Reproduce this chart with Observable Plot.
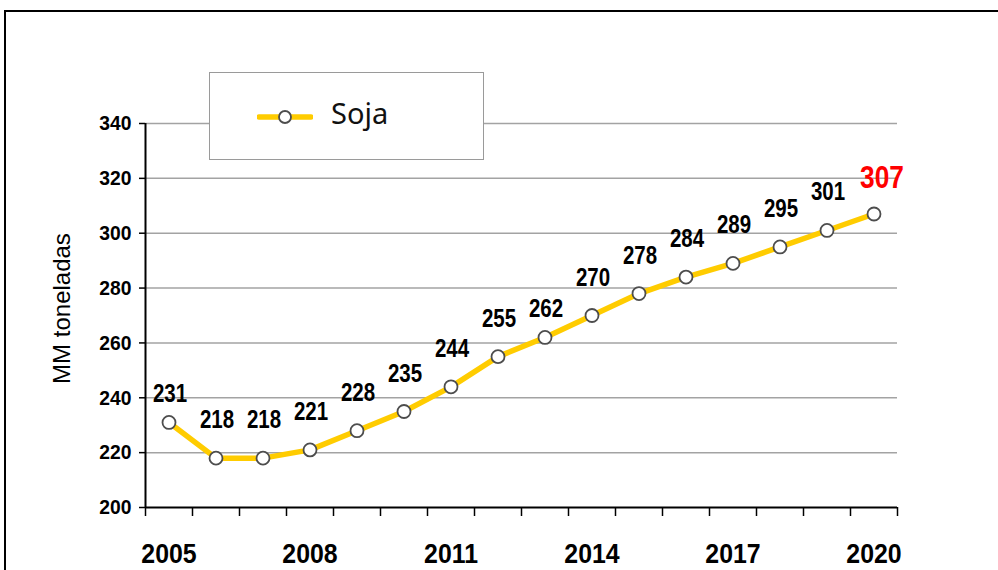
<!DOCTYPE html>
<html>
<head>
<meta charset="utf-8">
<script src="https://cdn.jsdelivr.net/npm/d3@7"></script>
<script src="https://cdn.jsdelivr.net/npm/@observablehq/plot@0.6"></script>
<style>
  html, body { margin: 0; padding: 0; background: #fff; overflow: hidden; }
  #wrap { position: relative; width: 998px; height: 570px; }
  #frame { position: absolute; left: 4px; top: 10px; width: 1100px; height: 700px; border: 2px solid #000; box-sizing: border-box; pointer-events: none; }
  #legend { position: absolute; left: 209px; top: 72px; width: 275px; height: 88px; box-sizing: border-box; border: 1.5px solid #9a9a9a; background: #fff; }
  #legend svg { position: absolute; left: 47px; top: 33px; }
  #legend span { position: absolute; left: 121px; top: 20px; font-family: "Noto Sans", "Open Sans", sans-serif; font-size: 29px; color: #111; line-height: 40px; }
</style>
</head>
<body>
<div id="wrap">
  <div id="chart"></div>
  <div id="legend">
    <svg width="56" height="22"><line x1="2" y1="11" x2="54" y2="11" stroke="#FFCC00" stroke-width="5.5" stroke-linecap="round"/><circle cx="28" cy="11" r="6" fill="#fff" stroke="#4d4d4d" stroke-width="1.8"/></svg>
    <span>Soja</span>
  </div>
  <div id="frame"></div>
</div>
<script>
const years = [2005, 2006, 2007, 2008, 2009, 2010, 2011, 2012, 2013, 2014, 2015, 2016, 2017, 2018, 2019, 2020];
const soja = [231, 218, 218, 221, 228, 235, 244, 255, 262, 270, 278, 284, 289, 295, 301, 307];
const yearLabels = [2005, 2008, 2011, 2014, 2017, 2020];
const yTicks = [200, 220, 240, 260, 280, 300, 320, 340];
const yLabel = "MM toneladas";

const data = years.map((y, i) => ({year: y, value: soja[i], i}));
const bounds = [years[0] - 0.5, ...years.map(y => y + 0.5)];
const last = data.length - 1;
const lowLabel = new Set([0, 8]);
const sans = '"Liberation Sans", Arial, sans-serif';

const chart = Plot.plot({
  width: 998,
  height: 570,
  marginLeft: 145,
  marginRight: 101,
  marginTop: 123,
  marginBottom: 63,
  style: {background: "transparent", fontFamily: sans, color: "#000"},
  x: {domain: [bounds[0], bounds[bounds.length - 1]]},
  y: {domain: [200, 340]},
  marks: [
    Plot.ruleY(yTicks.filter(d => d > 200), {stroke: "#a3a3a3", strokeWidth: 1.5}),
    Plot.axisY({ticks: yTicks, tickSize: 6, tickPadding: 8, fontSize: 21, fontWeight: "bold", label: null, strokeWidth: 1.5}),
    Plot.axisX({ticks: bounds, tickSize: 9, tickFormat: () => "", label: null, strokeWidth: 1.5}),
    Plot.axisX({ticks: yearLabels, tickSize: 0, tickPadding: 36, fontSize: 27, fontWeight: "bold", tickFormat: d => String(d), label: null}),
    Plot.ruleY([200], {stroke: "#000", strokeWidth: 2}),
    Plot.ruleX([bounds[0]], {stroke: "#000", strokeWidth: 2}),
    Plot.text([yLabel], {frameAnchor: "left", textAnchor: "middle", rotate: -90, dx: -83, dy: -7, fontSize: 24, fill: "#000"}),
    Plot.line(data, {x: "year", y: "value", stroke: "#FFCC00", strokeWidth: 5.5}),
    Plot.dot(data, {x: "year", y: "value", r: 6.5, fill: "#fff", stroke: "#4d4d4d", strokeWidth: 1.8}),
    Plot.text(data.filter(d => d.i !== last && !lowLabel.has(d.i)), {x: "year", y: "value", text: d => String(d.value), dy: -38, dx: 1, fontSize: 25, fontWeight: "bold", fill: "#000"}),
    Plot.text(data.filter(d => lowLabel.has(d.i)), {x: "year", y: "value", text: d => String(d.value), dy: -28, dx: 1, fontSize: 25, fontWeight: "bold", fill: "#000"}),
    Plot.text(data.filter(d => d.i === last), {x: "year", y: "value", text: d => String(d.value), dy: -36, dx: 8, fontSize: 32, fontWeight: "bold", fill: "#ff0000"})
  ]
});
document.getElementById("chart").appendChild(chart);

// condense bold texts horizontally to mimic a narrow bold face
function condense(sel, f) {
  sel.each(function () {
    const len = this.getComputedTextLength();
    if (len > 0) {
      this.setAttribute("textLength", (len * f).toFixed(1));
      this.setAttribute("lengthAdjust", "spacingAndGlyphs");
    }
  });
}
const svg = d3.select(chart);
svg.selectAll('g[aria-label="text"]').each(function () {
  const g = d3.select(this);
  if (g.attr("font-weight") === "bold") condense(g.selectAll("text"), 0.82);
});
condense(svg.selectAll('g[aria-label="x-axis tick label"] text'), 0.92);
condense(svg.selectAll('g[aria-label="y-axis tick label"] text'), 0.92);
</script>
</body>
</html>
